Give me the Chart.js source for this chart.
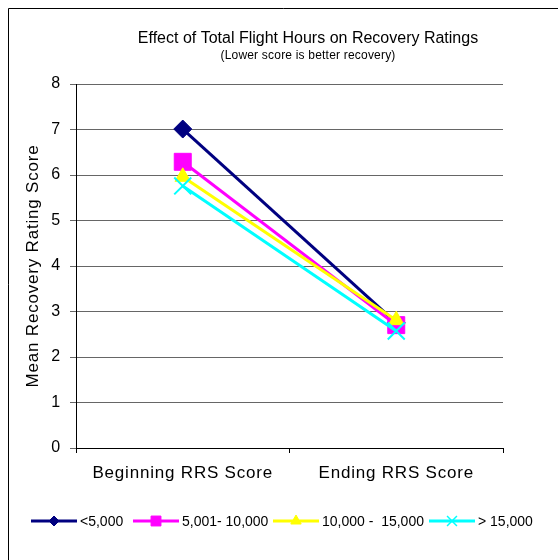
<!DOCTYPE html>
<html>
<head>
<meta charset="utf-8">
<script src="https://cdn.jsdelivr.net/npm/chart.js@4/dist/chart.umd.min.js"></script>
<style>
  html, body { margin: 0; padding: 0; background: #fff; }
  #wrap { width: 558px; height: 560px; position: relative; }
</style>
</head>
<body>
<div id="wrap"><canvas id="recoveryChart" width="558" height="560"></canvas></div>
<script>
// Categories and series
const categories = ['Beginning RRS Score', 'Ending RRS Score'];
const seriesNames = ['<5,000', '5,001- 10,000', '10,000 -  15,000', '> 15,000'];
const under5k = [7.01, 2.75];
const from5kTo10k = [6.29, 2.70];
const from10kTo15k = [5.96, 2.81];
const over15k = [5.76, 2.57];
const yTicks = [0, 1, 2, 3, 4, 5, 6, 7, 8];

const FONT = "'Liberation Sans', Arial, sans-serif";
const legendX = [31, 133, 273, 429]; // where each legend entry starts

// Excel-ish wide text spacing for the axis texts
const spacingPlugin = {
  id: 'spacing',
  beforeDraw(chart) { chart.ctx.letterSpacing = '0.8px'; },
  afterDraw(chart) { chart.ctx.letterSpacing = '0px'; }
};

// Frame, titles and legend (line + marker like the original)
const decorPlugin = {
  id: 'decor',
  afterDraw(chart) {
    const ctx = chart.ctx;
    ctx.save();
    ctx.letterSpacing = '0px';
    // outer frame (only top/left visible in the original)
    ctx.strokeStyle = '#000';
    ctx.lineWidth = 1;
    ctx.beginPath();
    ctx.moveTo(8.5, 560);
    ctx.lineTo(8.5, 8.5);
    ctx.lineTo(558, 8.5);
    ctx.stroke();

    // titles
    ctx.fillStyle = '#000';
    ctx.textAlign = 'center';
    ctx.textBaseline = 'middle';
    ctx.font = '16px ' + FONT;
    ctx.fillText('Effect of Total Flight Hours on Recovery Ratings', 308, 39);
    ctx.font = '12px ' + FONT;
    ctx.letterSpacing = '0.2px';
    ctx.fillText('(Lower score is better recovery)', 308, 56);
    ctx.letterSpacing = '0px';

    // legend, in series order
    ctx.font = '14px ' + FONT;
    ctx.textAlign = 'left';
    const y = 521;
    const sets = chart.data.datasets.slice().reverse();
    sets.forEach((ds, i) => {
      const x = legendX[i];
      ctx.strokeStyle = ds.borderColor;
      ctx.lineWidth = 3;
      ctx.beginPath();
      ctx.moveTo(x, y);
      ctx.lineTo(x + 46, y);
      ctx.stroke();
      ctx.fillStyle = ds.borderColor;
      ctx.lineWidth = ds.pointStyle === 'crossRot' ? 1.5 : 1;
      Chart.helpers.drawPoint(ctx, {
        pointStyle: ds.pointStyle,
        radius: ds.legendRadius,
        borderWidth: ctx.lineWidth
      }, x + 23, y);
      ctx.fillStyle = '#000';
      ctx.fillText(ds.label, x + 49, y + 1);
    });
    ctx.restore();
  }
};

function makeSet(label, data, color, style, radius, legendRadius) {
  return {
    label: label,
    data: data,
    borderColor: color,
    backgroundColor: color,
    pointBackgroundColor: color,
    pointBorderColor: color,
    borderWidth: 3,
    pointStyle: style,
    pointRadius: radius,
    pointHoverRadius: radius,
    pointBorderWidth: style === 'crossRot' ? 2 : 1,
    legendRadius: legendRadius,
    tension: 0
  };
}

const ctx = document.getElementById('recoveryChart').getContext('2d');
new Chart(ctx, {
  type: 'line',
  data: {
    labels: categories,
    // drawn back to front so the <5,000 series is on top
    datasets: [
      makeSet(seriesNames[0], under5k, '#000080', 'rectRot', 9, 5),
      makeSet(seriesNames[1], from5kTo10k, '#FF00FF', 'rect', 12, 7),
      makeSet(seriesNames[2], from10kTo15k, '#FFFF00', 'triangle', 9, 6),
      makeSet(seriesNames[3], over15k, '#00FFFF', 'crossRot', 12, 7)
    ].reverse()
  },
  options: {
    responsive: false,
    animation: false,
    devicePixelRatio: 1,
    layout: { padding: { top: 84, right: 55, bottom: 72, left: 0 } },
    plugins: {
      legend: { display: false },
      title: { display: false },
      tooltip: { enabled: false }
    },
    scales: {
      x: {
        offset: true,
        grid: { display: true, offset: true, drawOnChartArea: false, tickLength: 5, color: '#000' },
        border: { color: '#000', width: 1 },
        ticks: { color: '#000', font: { family: FONT, size: 17 }, padding: 10, maxRotation: 0 },
        afterFit: s => { s.height = 40; }
      },
      y: {
        min: 0,
        max: 8,
        afterBuildTicks: s => { s.ticks = yTicks.map(v => ({ value: v })); },
        grid: { color: '#666', lineWidth: 1, tickLength: 6 },
        border: { color: '#000', width: 1 },
        ticks: { color: '#000', font: { family: FONT, size: 16 }, padding: 9 },
        title: {
          display: true,
          text: 'Mean Recovery Rating Score',
          color: '#000',
          font: { family: FONT, size: 17 },
          padding: { top: 23, bottom: 0 }
        },
        afterFit: s => { s.width = 76; }
      }
    }
  },
  plugins: [spacingPlugin, decorPlugin]
});
</script>
</body>
</html>
